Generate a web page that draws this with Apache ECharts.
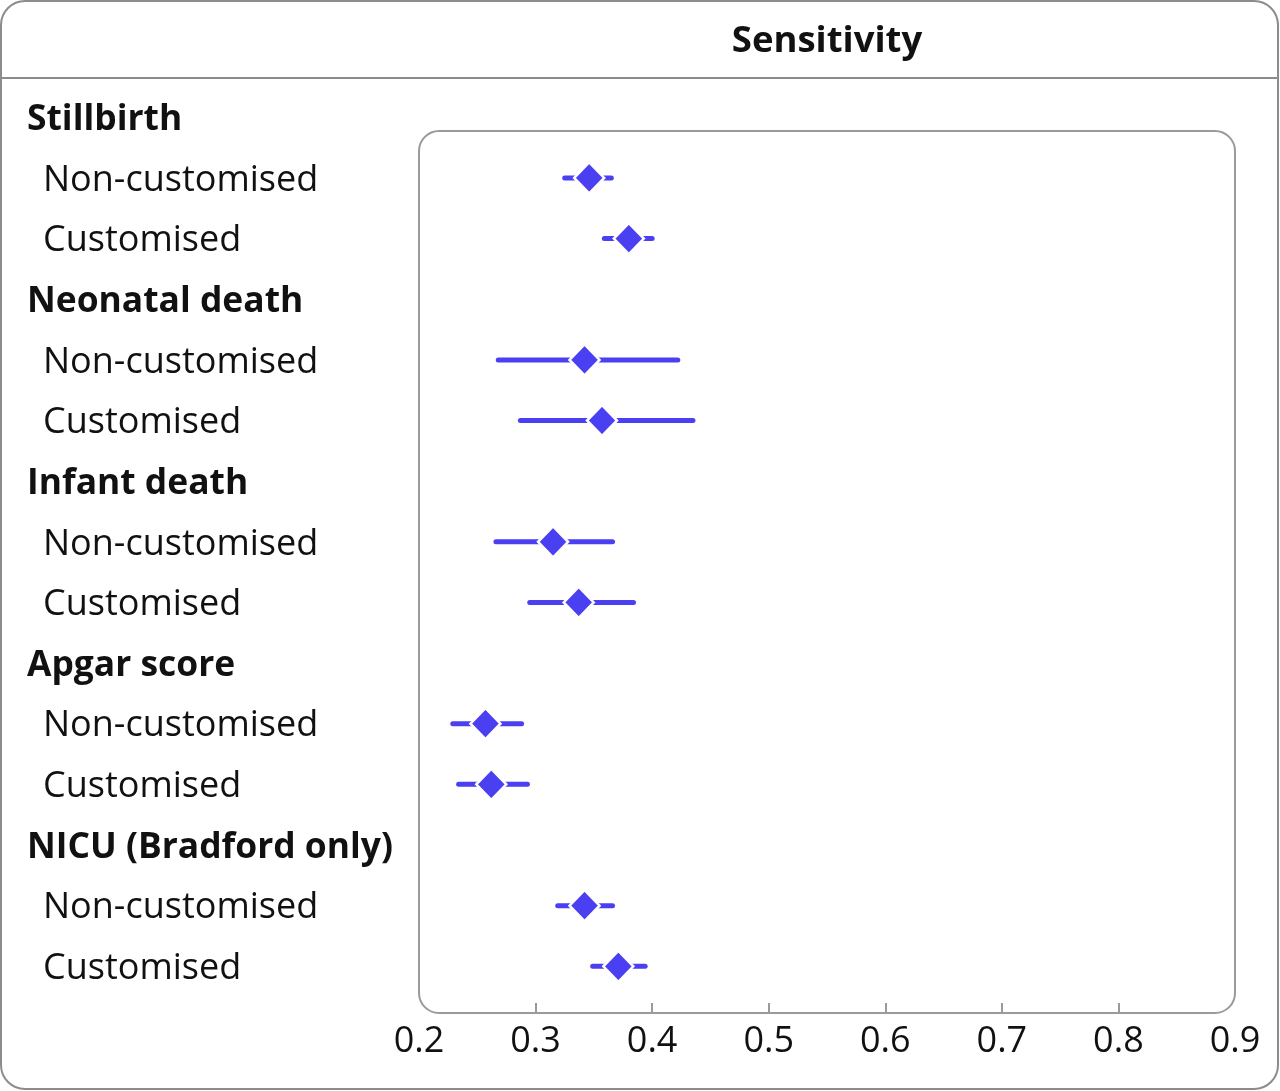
<!DOCTYPE html>
<html>
<head>
<meta charset="utf-8">
<script src="https://cdn.jsdelivr.net/npm/echarts@6/dist/echarts.min.js"></script>
<style>html,body{margin:0;padding:0;background:#fff;}#chart{width:1280px;height:1091px;}</style>
</head>
<body>
<div id="chart"></div>
<script>
const groups = ['Stillbirth', 'Neonatal death', 'Infant death', 'Apgar score', 'NICU (Bradford only)'];
const subLabels = ['Non-customised', 'Customised'];
const xTicks = [0.2, 0.3, 0.4, 0.5, 0.6, 0.7, 0.8, 0.9];
// Non-customised: estimate, lower, upper
const nonEst = [0.346, 0.342, 0.315, 0.257, 0.342];
const nonLow = [0.325, 0.268, 0.266, 0.229, 0.319];
const nonHigh = [0.365, 0.422, 0.366, 0.288, 0.366];
// Customised: estimate, lower, upper
const cusEst = [0.380, 0.357, 0.337, 0.262, 0.371];
const cusLow = [0.359, 0.287, 0.295, 0.234, 0.349];
const cusHigh = [0.400, 0.435, 0.384, 0.293, 0.394];

const rows = [];
const isHeader = [];
groups.forEach(g => {
  rows.push(g); isHeader.push(true);
  subLabels.forEach(s => { rows.push(s); isHeader.push(false); });
});

const pointData = [];
const ciData = [];
groups.forEach((g, i) => {
  pointData.push([nonEst[i], 3 * i + 1]);
  pointData.push([cusEst[i], 3 * i + 2]);
  ciData.push([nonLow[i], nonHigh[i], 3 * i + 1]);
  ciData.push([cusLow[i], cusHigh[i], 3 * i + 2]);
});

const FONT = 'Open Sans';
const BLUE = '#4b3ff2';
const chart = echarts.init(document.getElementById('chart'), null, {renderer: 'canvas'});
chart.setOption({
  animation: false,
  backgroundColor: '#fff',
  grid: {left: 419, right: 45, top: 87, bottom: 94.4, containLabel: false},
  xAxis: {
    type: 'value', min: 0.2, max: 0.9, interval: 0.1, offset: 16.4,
    axisLine: {show: false},
    axisTick: {show: true, inside: true, length: 10, lineStyle: {color: '#9a9a9a', width: 2},
      customValues: xTicks.slice(1, -1)},
    splitLine: {show: false},
    axisLabel: {fontFamily: FONT, fontSize: 36, color: '#111', margin: 11,
      formatter: v => (Math.round(v * 10) / 10).toFixed(1)}
  },
  yAxis: {
    type: 'category', data: rows, inverse: true,
    axisLine: {show: false}, axisTick: {show: false}, splitLine: {show: false},
    axisLabel: {
      align: 'left', margin: 392, interval: 0,
      formatter: (v, idx) => isHeader[idx] ? '{h|' + v + '}' : '{s|' + v + '}',
      rich: {
        h: {fontFamily: FONT, fontWeight: 'bold', fontSize: 35.4, color: '#111', padding: [5, 0, 0, 0]},
        s: {fontFamily: FONT, fontSize: 36, color: '#111', padding: [5, 0, 0, 16]}
      }
    }
  },
  graphic: [
    {type: 'rect', z: 0, shape: {x: 1, y: 1, width: 1277, height: 1088, r: 24},
      style: {fill: 'none', stroke: '#8c8c8c', lineWidth: 2}},
    {type: 'line', z: 0, shape: {x1: 1, y1: 78, x2: 1279, y2: 78},
      style: {stroke: '#8c8c8c', lineWidth: 2}},
    {type: 'rect', z: 0, shape: {x: 419, y: 131, width: 816, height: 882, r: 20},
      style: {fill: 'none', stroke: '#9a9a9a', lineWidth: 2}},
    {type: 'text', z: 1, x: 827, y: 42,
      style: {text: 'Sensitivity', fontFamily: FONT, fontWeight: 'bold', fontSize: 36.5,
        fill: '#111', textAlign: 'center', textVerticalAlign: 'middle'}}
  ],
  series: [
    {
      type: 'custom', name: 'CI', data: ciData, z: 2,
      encode: {x: [0, 1], y: 2},
      renderItem: (params, api) => {
        const p1 = api.coord([api.value(0), api.value(2)]);
        const p2 = api.coord([api.value(1), api.value(2)]);
        return {type: 'line', shape: {x1: p1[0], y1: p1[1], x2: p2[0], y2: p2[1]},
          style: {stroke: BLUE, lineWidth: 5, lineCap: 'round'}};
      }
    },
    {
      type: 'scatter', name: 'Estimate', data: pointData, z: 3,
      symbol: 'diamond', symbolSize: [30, 31],
      itemStyle: {color: BLUE, borderColor: '#fff', borderWidth: 2.5, opacity: 1}
    }
  ]
});
</script>
</body>
</html>
